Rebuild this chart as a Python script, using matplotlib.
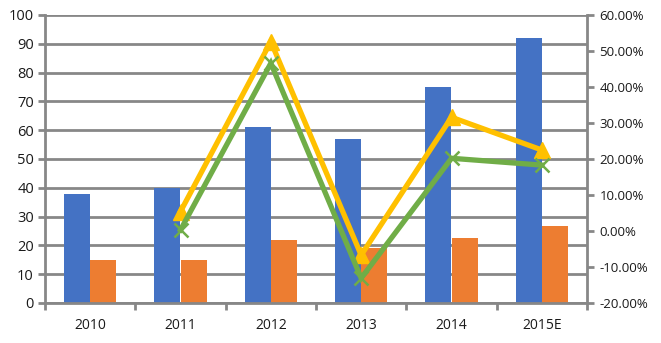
import matplotlib
matplotlib.use("Agg")
import matplotlib.pyplot as plt
from matplotlib.ticker import FuncFormatter, FixedLocator

years = ["2010", "2011", "2012", "2013", "2014", "2015E"]
revenue = [38, 40, 61, 57, 75, 92]
profit = [15, 15, 22, 19, 22.6, 26.7]
revenue_growth = [None, 5.4, 52.6, -6.7, 31.6, 22.5]
profit_growth = [None, 0.3, 46.6, -13.1, 20.2, 18.3]

BLUE = "#4472C4"
ORANGE = "#ED7D31"
GREEN = "#70AD47"
GOLD = "#FFC000"
GRID = "#878787"
TEXT = "#1a1a1a"

plt.rcParams["font.family"] = ["Open Sans", "DejaVu Sans"]

fig = plt.figure(figsize=(6.61, 3.43), dpi=100)
ax = fig.add_axes([45 / 661, 40 / 343, 542 / 661, 288 / 343])

x = list(range(len(years)))
w = 0.288
ax.bar([i - w / 2 for i in x], revenue, width=w, color=BLUE, zorder=2)
ax.bar([i + w / 2 for i in x], profit, width=w, color=ORANGE, zorder=2)

ax.set_xlim(-0.5, len(years) - 0.5)
ax.set_ylim(0, 100)
ax.set_yticks(range(0, 101, 10))
ax.yaxis.grid(True, color=GRID, linewidth=2, zorder=0)
ax.set_axisbelow(True)

ax.xaxis.set_major_locator(FixedLocator([i - 0.5 for i in range(len(years) + 1)]))
ax.xaxis.set_major_formatter(FuncFormatter(lambda v, p: ""))
ax.set_xticks(x, minor=True)
ax.set_xticklabels(years, minor=True)
ax.tick_params(axis="x", which="major", length=5, width=2, color=GRID, direction="out")
ax.tick_params(axis="x", which="minor", length=0, pad=11, labelsize=10, labelcolor=TEXT)
ax.tick_params(axis="y", length=5, width=2, color=GRID, labelsize=10.5, labelcolor=TEXT, pad=3)

for s in ["top", "right"]:
    ax.spines[s].set_visible(False)
for s in ["left", "bottom"]:
    ax.spines[s].set_color(GRID)
    ax.spines[s].set_linewidth(2)

ax2 = ax.twinx()
ax2.set_ylim(-20, 60)
ax2.set_yticks(range(-20, 61, 10))
ax2.yaxis.set_major_formatter(FuncFormatter(lambda v, p: f"{v:.2f}%"))
ax2.tick_params(axis="y", length=5, width=2, color=GRID, labelsize=9.5, labelcolor=TEXT, pad=4)
for s in ["top", "left", "bottom"]:
    ax2.spines[s].set_visible(False)
ax2.spines["right"].set_color(GRID)
ax2.spines["right"].set_linewidth(2)

gx = [i for i, v in enumerate(revenue_growth) if v is not None]
ax2.plot(gx, [revenue_growth[i] for i in gx], color=GOLD, linewidth=3.8,
         marker="^", markersize=12, markeredgecolor=GOLD, zorder=3,
         solid_joinstyle="miter")
px = [i for i, v in enumerate(profit_growth) if v is not None]
ax2.plot(px, [profit_growth[i] for i in px], color=GREEN, linewidth=3.8,
         marker="x", markersize=10, markeredgewidth=1.8, zorder=4,
         solid_joinstyle="miter")

fig.savefig("out.png", dpi=100, facecolor="white")
